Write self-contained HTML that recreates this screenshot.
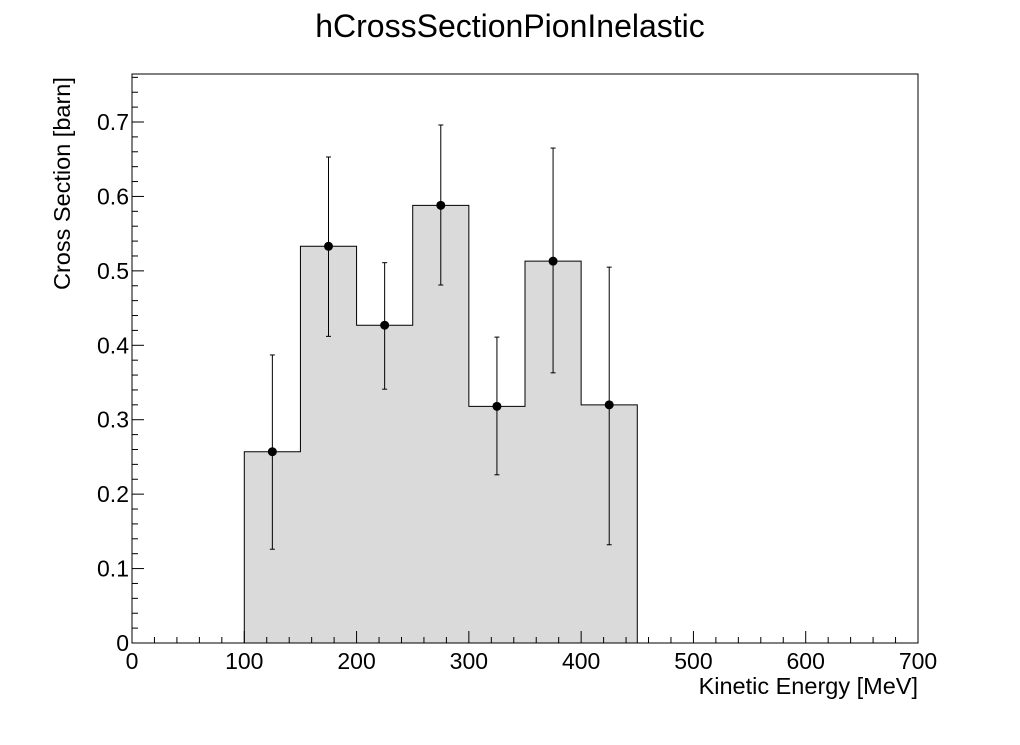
<!DOCTYPE html>
<html><head><meta charset="utf-8"><style>
body{margin:0;background:#fff}
svg text{font-family:"Liberation Sans",sans-serif;fill:#000}
</style></head><body>
<svg id="c" width="1020" height="740">
<text x="510" y="37" font-size="32" text-anchor="middle">hCrossSectionPionInelastic</text>
<text x="918" y="694" font-size="23.5" text-anchor="end">Kinetic Energy [MeV]</text>
<text transform="translate(70,290) rotate(-90)" font-size="23.5">Cross Section [barn]</text>
<g id="plot"></g>
</svg>
<script>
const binEdgesLow=[100,150,200,250,300,350,400];
const binWidth=50;
const values=[0.257,0.533,0.427,0.588,0.318,0.513,0.320];
const errUp=[0.130,0.120,0.084,0.108,0.093,0.152,0.185];
const errDown=[0.131,0.121,0.086,0.107,0.092,0.150,0.188];
const xTicks=[0,100,200,300,400,500,600,700];
const yTicks=[0,0.1,0.2,0.3,0.4,0.5,0.6,0.7];
const X0=132,X1=918,Y0=643,Y1=74;
const xMax=700,yMax=0.7645;
const sx=v=>X0+(v/xMax)*(X1-X0);
const sy=v=>Y0-(v/yMax)*(Y0-Y1);
const g=document.getElementById('plot');
const NS='http://www.w3.org/2000/svg';
function mk(t,a){const e=document.createElementNS(NS,t);for(const k in a)e.setAttribute(k,a[k]);g.appendChild(e);return e;}
let d='M'+sx(binEdgesLow[0])+' '+sy(0);
values.forEach((v,i)=>{d+=' L'+sx(binEdgesLow[i])+' '+sy(v)+' L'+sx(binEdgesLow[i]+binWidth)+' '+sy(v);});
d+=' L'+sx(binEdgesLow[binEdgesLow.length-1]+binWidth)+' '+sy(0)+' Z';
const h=mk('path',{d:d,fill:'#dadada',stroke:'#000','stroke-width':1});


const fr=mk('rect',{x:X0,y:Y1,width:X1-X0,height:Y0-Y1,fill:'none',stroke:'#000','stroke-width':1});


for(let v=0;v<=xMax;v+=20){const maj=v%100===0;const t=mk('line',{x1:sx(v),x2:sx(v),y1:Y0,y2:Y0-(maj?12:6),stroke:'#000'});

}
xTicks.forEach(v=>{const t=mk('text',{x:sx(v),y:Y0+26,'font-size':23,'text-anchor':'middle'});t.textContent=v;

});
for(let i=0;i<=38;i++){const v=i*0.02;if(v>yMax)break;const maj=i%5===0;const t=mk('line',{x1:X0,x2:X0+(maj?12:6),y1:sy(v),y2:sy(v),stroke:'#000'});

}
yTicks.forEach(v=>{const t=mk('text',{x:X0-3,y:sy(v)+8,'font-size':23,'text-anchor':'end'});t.textContent=v===0?'0':v.toFixed(1);

});
values.forEach((v,i)=>{const cx=sx(binEdgesLow[i]+binWidth/2);
const e=mk('line',{x1:cx,x2:cx,y1:sy(v+errUp[i]),y2:sy(v-errDown[i]),stroke:'#000'});


[v+errUp[i],v-errDown[i]].forEach(y=>{const c=mk('line',{x1:cx-2.5,x2:cx+2.5,y1:sy(y),y2:sy(y),stroke:'#000'});

});
const p=mk('circle',{cx:cx,cy:sy(v),r:4.5,fill:'#000'});

});
</script>
</body></html>
